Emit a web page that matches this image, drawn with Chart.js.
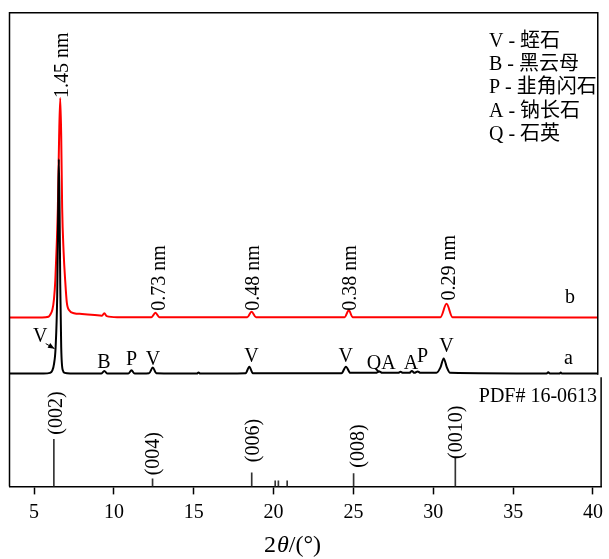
<!DOCTYPE html>
<html>
<head>
<meta charset="utf-8">
<script src="https://cdn.jsdelivr.net/npm/chart.js@4.4.1/dist/chart.umd.min.js"></script>
<style>
  html, body { margin: 0; padding: 0; background: #fff; }
  #wrap { width: 609px; height: 559px; }
</style>
</head>
<body>
<div id="wrap"><canvas id="xrd"></canvas></div>
<script>
// pattern a (black) - 2theta / intensity (a.u.)
const aTheta = [3.46, 5.6, 6.0, 6.14, 6.25, 6.35, 6.45, 6.51, 6.55, 6.60, 6.64, 6.70, 6.80, 6.92, 7.3, 9.2, 9.4, 9.6,
  10.9, 11.1, 11.3, 12.2, 12.44, 12.65, 15.2, 15.3, 15.4, 18.25, 18.48, 18.7, 24.25, 24.53, 24.8, 26.4, 26.62, 26.8,
  27.8, 27.95, 28.1, 28.5, 28.66, 28.82, 29.02, 29.2, 30.2, 30.45, 30.65, 30.85, 31.05, 37.1, 37.2, 37.3,
  37.9, 37.98, 38.05, 40.3];
const aCounts = [0.3, 0.3, 0.5, 1.1, 3.0, 7.6, 22, 45, 59.6, 45, 25, 7.6, 1.2, 0.5, 0.35, 0.3, 1.0, 0.3,
  0.3, 1.2, 0.3, 0.4, 2.0, 0.4, 0.3, 0.6, 0.3, 0.4, 2.2, 0.4, 0.4, 2.2, 0.5, 0.5, 0.9, 0.5,
  0.5, 0.8, 0.5, 0.5, 1.0, 0.5, 0.9, 0.5, 0.5, 2.0, 4.5, 2.0, 0.5, 0.3, 0.7, 0.3,
  0.3, 0.6, 0.3, 0.3];

// pattern b (red)
const bTheta = [3.46, 5.5, 5.9, 6.0, 6.15, 6.25, 6.33, 6.42, 6.49, 6.57, 6.64, 6.70, 6.76, 6.85, 6.95, 7.05, 7.2,
  7.5, 8.0, 8.8, 9.25, 9.4, 9.55, 10.2, 12.35, 12.6, 12.85, 18.35, 18.62, 18.9, 24.45, 24.71, 24.95,
  30.45, 30.83, 31.2, 40.3];
const bCounts = [15.8, 15.8, 16.0, 16.5, 18.0, 21, 26, 36, 46, 66, 76.5, 66, 46, 34, 26, 20, 17.8,
  17.0, 16.8, 16.5, 16.3, 17.0, 16.2, 15.9, 15.9, 17.1, 15.9, 15.9, 17.4, 15.9, 15.9, 17.8, 15.9,
  15.9, 19.6, 15.9, 15.8];

// PDF# 16-0613 reference lines
const pdfTheta = [6.24, 12.42, 18.63, 20.1, 20.3, 20.85, 25.01, 31.38];
const pdfIntensity = [100, 16, 29, 12, 12, 12, 27, 60];
const pdfHkl = ['(002)', '(004)', '(006)', '', '', '', '(008)', '(0010)'];

const xTicks = [5, 10, 15, 20, 25, 30, 35, 40];

// d-spacing labels on pattern b
const dLabels = ['1.45 nm', '0.73 nm', '0.48 nm', '0.38 nm', '0.29 nm'];
const dAt = [[7.12, 76.5], [13.20, 17.7], [19.09, 17.7], [25.19, 17.7], [31.39, 20.5]];

// phase letters on pattern a
const phaseMarks = ['V', 'B', 'P', 'V', 'V', 'V', 'QA', 'A', 'P', 'V'];
const phaseAt = [[5.38, 8.9], [9.38, 1.86], [11.10, 2.69], [12.44, 2.69], [18.62, 3.6], [24.51, 3.6],
  [26.74, 1.58], [28.60, 1.66], [29.33, 3.4], [30.82, 6.18]];

// hkl label centres (2theta, pdf intensity units)
const hklAt = [[6.39, 155.6], [12.48, 69.5], [18.74, 97.2], null, null, null, [25.32, 85.5], [31.50, 114.8]];

const phaseCodes = ['V', 'B', 'P', 'A', 'Q'];
const phaseNames = ['蛭石', '黑云母', '韭角闪石', '钠长石', '石英'];

const serif = '"Liberation Serif", "Times New Roman", "Noto Sans CJK SC", serif';

const labelsPlugin = {
  id: 'xrdLabels',
  afterDraw(chart) {
    const ctx = chart.ctx;
    const x = chart.scales.x, y = chart.scales.y, y2 = chart.scales.y2;
    const ca = chart.chartArea;
    ctx.save();
    ctx.strokeStyle = '#000';
    ctx.lineWidth = 1.5;
    // frame of the upper panel and sides of the lower one
    const upRight = x.getPixelForValue(40.3);
    ctx.beginPath();
    ctx.moveTo(ca.left, ca.bottom);
    ctx.lineTo(ca.left, ca.top);
    ctx.lineTo(upRight, ca.top);
    ctx.lineTo(upRight, y.getPixelForValue(0));
    ctx.stroke();
    ctx.beginPath();
    ctx.moveTo(ca.right, y.getPixelForValue(-0.7));
    ctx.lineTo(ca.right, ca.bottom);
    ctx.stroke();

    ctx.fillStyle = '#000';
    ctx.font = '20px ' + serif;

    // rotated d-spacing labels
    dLabels.forEach((t, i) => {
      ctx.save();
      ctx.translate(x.getPixelForValue(dAt[i][0]), y.getPixelForValue(dAt[i][1]));
      ctx.rotate(-Math.PI / 2);
      ctx.textAlign = 'left';
      ctx.textBaseline = 'alphabetic';
      ctx.fillText(t, 0, 0);
      ctx.restore();
    });

    // phase letters
    ctx.textAlign = 'center';
    ctx.textBaseline = 'alphabetic';
    phaseMarks.forEach((t, i) => {
      ctx.fillText(t, x.getPixelForValue(phaseAt[i][0]), y.getPixelForValue(phaseAt[i][1]));
    });
    ctx.fillText('a', x.getPixelForValue(38.46), y.getPixelForValue(2.96));
    ctx.fillText('b', x.getPixelForValue(38.56), y.getPixelForValue(19.75));

    // arrow V -> main peak
    const x1 = x.getPixelForValue(5.73), y1 = y.getPixelForValue(8.6);
    const x2 = x.getPixelForValue(6.28), y2p = y.getPixelForValue(7.2);
    ctx.lineWidth = 1;
    ctx.beginPath();
    ctx.moveTo(x1, y1);
    ctx.lineTo(x2, y2p);
    ctx.stroke();
    const ang = Math.atan2(y2p - y1, x2 - x1);
    ctx.beginPath();
    ctx.moveTo(x2, y2p);
    ctx.lineTo(x2 - 7 * Math.cos(ang - 0.4), y2p - 7 * Math.sin(ang - 0.4));
    ctx.lineTo(x2 - 7 * Math.cos(ang + 0.4), y2p - 7 * Math.sin(ang + 0.4));
    ctx.closePath();
    ctx.fill();

    // hkl labels
    pdfHkl.forEach((t, i) => {
      if (!t) return;
      ctx.save();
      ctx.translate(x.getPixelForValue(hklAt[i][0]), y2.getPixelForValue(hklAt[i][1]));
      ctx.rotate(-Math.PI / 2);
      ctx.textAlign = 'center';
      ctx.textBaseline = 'middle';
      ctx.fillText(t, 0, 0);
      ctx.restore();
    });

    ctx.textAlign = 'right';
    ctx.fillText('PDF# 16-0613', ca.right - 4, ca.top + 389);

    // legend of phases
    ctx.textAlign = 'left';
    phaseCodes.forEach((c, i) => {
      ctx.fillText(c + ' - ' + phaseNames[i], 489, 46.7 + i * 23.3);
    });

    // axis title 2θ/(°)
    const cx = 292;
    const ty = 552;
    const p1 = '2', p3 = '/(°)';
    ctx.font = 'italic 24px ' + serif;
    const w2 = ctx.measureText('θ').width;
    ctx.font = '24px ' + serif;
    const w1 = ctx.measureText(p1).width, w3 = ctx.measureText(p3).width;
    const sx = cx - (w1 + w2 + w3) / 2;
    ctx.textAlign = 'left';
    ctx.fillText(p1, sx, ty);
    ctx.font = 'italic 24px ' + serif;
    ctx.fillText('θ', sx + w1 + 1, ty);
    ctx.font = '24px ' + serif;
    ctx.fillText(p3, sx + w1 + w2 + 1, ty);
    ctx.restore();
  }
};

new Chart(document.getElementById('xrd'), {
  type: 'line',
  data: {
    datasets: [
      {
        label: 'a',
        data: aTheta.map((t, i) => ({ x: t, y: aCounts[i] })),
        borderColor: '#000',
        borderWidth: 2,
        pointRadius: 0,
        cubicInterpolationMode: 'monotone',
        yAxisID: 'y'
      },
      {
        label: 'b',
        data: bTheta.map((t, i) => ({ x: t, y: bCounts[i] })),
        borderColor: '#ff0000',
        borderWidth: 2,
        pointRadius: 0,
        cubicInterpolationMode: 'monotone',
        yAxisID: 'y'
      },
      {
        type: 'bar',
        label: 'PDF# 16-0613',
        data: pdfTheta.map((t, i) => ({ x: t, y: pdfIntensity[i] })),
        backgroundColor: '#333',
        barThickness: 1,
        grouped: false,
        yAxisID: 'y2'
      }
    ]
  },
  options: {
    responsive: true,
    maintainAspectRatio: false,
    animation: false,
    layout: { padding: { left: 9.5, right: 1.7, top: 12.7, bottom: 28.6 } },
    plugins: { legend: { display: false }, tooltip: { enabled: false } },
    scales: {
      x: {
        type: 'linear',
        min: 3.462,
        max: 40.51,
        offset: false,
        afterBuildTicks(scale) { scale.ticks = xTicks.map(v => ({ value: v })); },
        ticks: { font: { family: serif, size: 20 }, color: '#000', padding: 6, maxRotation: 0, includeBounds: false },
        grid: { offset: false, drawOnChartArea: false, drawTicks: true, tickLength: 8, color: '#000', tickWidth: 1.5 },
        border: { display: true, color: '#000', width: 1.5 }
      },
      y: { display: false, min: -30.9, max: 100.1 },
      y2: { display: false, min: 0, max: 1005 }
    }
  },
  plugins: [labelsPlugin]
});
</script>
</body>
</html>
